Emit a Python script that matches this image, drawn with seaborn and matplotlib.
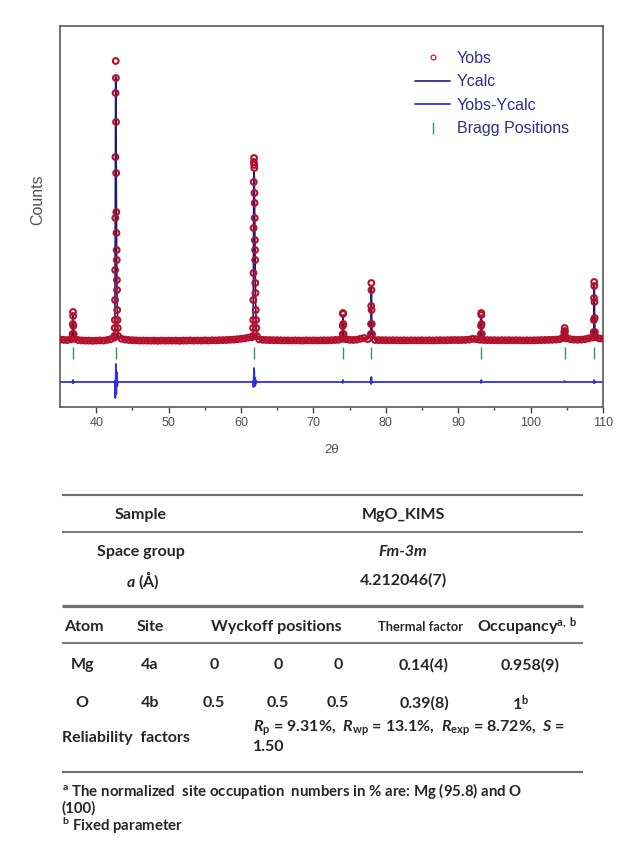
import numpy as np
import matplotlib
matplotlib.use("Agg")
import matplotlib.pyplot as plt
from matplotlib.lines import Line2D
import seaborn as sns

# ---------------- data ----------------
two_theta_start, two_theta_end, two_theta_step = 35.0, 110.0, 0.5
background_counts = [
    520, 505, 495, 530, 560, 500, 480, 470, 470, 460,
    470, 480, 470, 500, 540, 620, 640, 560, 520, 500,
    490, 480, 470, 475, 470, 465, 470, 460, 470, 465,
    470, 465, 470, 460, 470, 470, 480, 470, 475, 470,
    480, 475, 485, 480, 490, 495, 500, 510, 520, 540,
    560, 580, 620, 640, 560, 530, 510, 500, 495, 490,
    490, 485, 480, 480, 475, 480, 475, 470, 480, 475,
    480, 475, 480, 485, 480, 490, 500, 510, 560, 540,
    510, 500, 520, 560, 600, 540, 510, 500, 495, 490,
    490, 485, 490, 485, 480, 485, 480, 485, 480, 480,
    485, 480, 485, 480, 485, 490, 485, 490, 495, 500,
    495, 500, 505, 520, 560, 540, 510, 500, 495, 490,
    490, 485, 490, 485, 490, 485, 490, 485, 480, 485,
    480, 485, 490, 495, 500, 505, 510, 520, 540, 600,
    580, 540, 520, 510, 520, 540, 580, 620, 640, 580,
    560,
]

peak_36_theta = [36.74, 36.78, 36.80, 36.82, 36.84, 36.88]
peak_36_obs = [800, 1300, 1900, 1700, 1200, 800]
peak_36_calc = [800, 1350, 1800, 1650, 1250, 800]

peak_42_theta = [42.52, 42.56, 42.58, 42.60, 42.62, 42.64, 42.66, 42.68, 42.70, 42.72, 42.74,
                 42.76, 42.78, 42.80, 42.82, 42.84, 42.86, 42.88, 42.90, 42.94, 42.98, 43.04]
peak_42_obs = [700, 1100, 1500, 2500, 4000, 6600, 9650, 12850, 14450, 13600, 11400,
               8850, 6900, 5850, 5000, 4500, 3500, 3000, 2000, 1500, 1100, 700]
peak_42_calc = [700, 1050, 1600, 2700, 4600, 7400, 10300, 12900, 13650, 12700, 11300,
                9400, 7500, 6000, 4900, 4000, 3300, 2700, 2200, 1600, 1100, 700]

peak_62_theta = [61.62, 61.66, 61.68, 61.70, 61.72, 61.74, 61.76, 61.78, 61.80, 61.82, 61.84, 61.86,
                 61.88, 61.90, 61.92, 61.94, 61.96, 61.98, 62.00, 62.04, 62.08, 62.12, 62.18]
peak_62_obs = [700, 1100, 1500, 2500, 3850, 6100, 8400, 9400, 9600, 9250, 9100, 7850,
               7350, 6600, 5500, 5000, 4500, 3350, 2850, 2000, 1500, 1100, 700]
peak_62_calc = [700, 1050, 1450, 2600, 4100, 6300, 8300, 8900, 8900, 8700, 8600, 8000,
                7200, 6500, 5700, 4900, 4300, 3500, 2800, 2050, 1450, 1050, 700]

peak_74_theta = [74.04, 74.06, 74.08, 74.10, 74.12, 74.16]
peak_74_obs = [800, 1200, 1850, 1800, 1300, 800]
peak_74_calc = [800, 1250, 1750, 1750, 1300, 800]

peak_78_theta = [77.94, 77.96, 77.98, 78.00, 78.02, 78.04, 78.06, 78.10]
peak_78_obs = [800, 1300, 2200, 3350, 3000, 2000, 1300, 800]
peak_78_calc = [800, 1300, 2300, 3100, 2900, 2050, 1300, 800]

peak_93_theta = [93.14, 93.16, 93.18, 93.20, 93.22, 93.26]
peak_93_obs = [800, 1200, 1850, 1750, 1300, 800]
peak_93_calc = [800, 1250, 1750, 1700, 1300, 800]

peak_105_theta = [104.60, 104.65, 104.70, 104.75, 104.80]
peak_105_obs = [700, 900, 1100, 950, 700]
peak_105_calc = [700, 900, 1050, 950, 700]

peak_109_theta = [108.72, 108.74, 108.76, 108.78, 108.80, 108.82, 108.84, 108.88]
peak_109_obs = [900, 1500, 2600, 3400, 3200, 2400, 1600, 900]
peak_109_calc = [900, 1550, 2550, 3300, 3150, 2450, 1600, 900]

bragg_positions = [36.8, 42.7, 61.8, 74.1, 78.0, 93.2, 104.7, 108.8]
bragg_level = -170
difference_offset = -1600

x_ticks = [40, 50, 60, 70, 80, 90, 100, 110]
x_label = "2θ"
y_label = "Counts"
legend_labels = ["Yobs", "Ycalc", "Yobs-Ycalc", "Bragg Positions"]

# table content
sample_row = ["Sample", "MgO_KIMS"]
space_group_row = ["Space group", "Fm-3m"]
lattice_row = [r"$a$ (Å)", "4.212046(7)"]
header_row = ["Atom", "Site", "Wyckoff positions", "Thermal factor", r"Occupancy$^{\mathrm{a,\ b}}$"]
atoms = ["Mg", "O"]
sites = ["4a", "4b"]
wyckoff_x = ["0", "0.5"]
wyckoff_y = ["0", "0.5"]
wyckoff_z = ["0", "0.5"]
thermal = ["0.14(4)", "0.39(8)"]
occupancy = ["0.958(9)", r"1$^{\mathrm{b}}$"]
reliability_label = "Reliability  factors"
reliability_line1 = r"$R_\mathrm{p}$ = 9.31%,  $R_\mathrm{wp}$ = 13.1%,  $R_\mathrm{exp}$ = 8.72%,  $S$ ="
reliability_line2 = "1.50"
footnote_a1 = r"$^{\mathrm{a}}$ The normalized  site occupation  numbers in % are: Mg (95.8) and O"
footnote_a2 = "(100)"
footnote_b = r"$^{\mathrm{b}}$ Fixed parameter"

# ---------------- assemble profile ----------------
peaks = [
    (peak_36_theta, peak_36_obs, peak_36_calc),
    (peak_42_theta, peak_42_obs, peak_42_calc),
    (peak_62_theta, peak_62_obs, peak_62_calc),
    (peak_74_theta, peak_74_obs, peak_74_calc),
    (peak_78_theta, peak_78_obs, peak_78_calc),
    (peak_93_theta, peak_93_obs, peak_93_calc),
    (peak_105_theta, peak_105_obs, peak_105_calc),
    (peak_109_theta, peak_109_obs, peak_109_calc),
]
bg_x = np.linspace(two_theta_start, two_theta_end, len(background_counts))
bg_y = np.array(background_counts, float)
keep = np.ones(len(bg_x), bool)
for th, _, _ in peaks:
    keep &= ~((bg_x >= min(th)) & (bg_x <= max(th)))
xs = [bg_x[keep]]
obs = [bg_y[keep]]
calc = [bg_y[keep]]
for th, o, c in peaks:
    xs.append(np.array(th, float))
    obs.append(np.array(o, float))
    calc.append(np.array(c, float))
xs = np.concatenate(xs)
obs = np.concatenate(obs)
calc = np.concatenate(calc)
order = np.argsort(xs, kind="stable")
xs, obs, calc = xs[order], obs[order], calc[order]
diff = obs - calc + difference_offset

# ---------------- figure ----------------
sns.set_theme(style="white")
plt.rcParams["font.family"] = ["Liberation Sans", "DejaVu Sans"]
plt.rcParams["mathtext.fontset"] = "custom"
plt.rcParams["mathtext.rm"] = "Lato:bold"
plt.rcParams["mathtext.it"] = "Lato:italic:bold"
plt.rcParams["mathtext.bf"] = "Lato:bold"

W, H = 621, 864
fig = plt.figure(figsize=(W / 100, H / 100), dpi=100)

tab = fig.add_axes([0, 0, 1, 1], zorder=0)
tab.set_xlim(0, W)
tab.set_ylim(H, 0)
tab.axis("off")

ax = fig.add_axes([60 / W, 1 - 407 / H, 543 / W, 381 / H], zorder=2)
ax.set_facecolor("none")

obs_color = "#b40f2b"
calc_color = "#1c1c74"
diff_color = "#3030dc"
bragg_color = "#2f9a5c"
text_navy = "#2e2e8a"

sns.lineplot(x=xs, y=diff, ax=ax, color=diff_color, lw=1.3, estimator=None, sort=False, zorder=2)
sns.lineplot(x=xs, y=calc, ax=ax, color=calc_color, lw=1.2, estimator=None, sort=False, zorder=3)
sns.scatterplot(x=xs, y=obs, ax=ax, color=obs_color, s=17, marker="o", linewidth=1.5, zorder=4)
coll = ax.collections[-1]
coll.set_facecolor("none")
coll.set_edgecolor(obs_color)
ax.plot(bragg_positions, [bragg_level] * len(bragg_positions), linestyle="none", marker="|",
        ms=8, mew=1.0, color=bragg_color, zorder=5)

ax.set_xlim(two_theta_start, two_theta_end)
ax.set_ylim(-2850, 16200)
ax.set_xticks(x_ticks)
ax.set_xticks([45, 55, 65, 75, 85, 95, 105], minor=True)
ax.set_xticklabels([str(t) for t in x_ticks])
ax.set_yticks([])
ax.tick_params(axis="x", which="major", direction="out", length=4, width=1, color="#444444",
               labelsize=9, labelcolor="#505050", pad=3, bottom=True)
ax.tick_params(axis="x", which="minor", direction="out", length=2, width=1, color="#444444", bottom=True)
for sp in ax.spines.values():
    sp.set_color("#5a5a5a")
    sp.set_linewidth(1.2)
ax.set_xlabel(x_label, fontsize=9.5, color="#505050", labelpad=11)
ax.set_ylabel(y_label, fontsize=11.5, color="#505050")
ax.yaxis.set_label_coords(-0.027, 0.545)

handles = [
    Line2D([], [], linestyle="none", marker="o", ms=3.5, mfc="none", mec=obs_color, mew=0.8),
    Line2D([], [], color=calc_color, lw=1.2),
    Line2D([], [], color=diff_color, lw=1.3),
    Line2D([], [], linestyle="none", marker="|", ms=8, mew=1.0, color=bragg_color),
]
leg = fig.legend(handles, legend_labels, loc="upper left", bbox_to_anchor=(415 / W, 1 - 51 / H),
                 frameon=False, fontsize=11.5, handlelength=2.2, handletextpad=0.4,
                 labelspacing=0.53, borderpad=0, borderaxespad=0)
for t in leg.get_texts():
    t.set_color(text_navy)

# ---------------- table ----------------
tfont = ["Lato", "DejaVu Sans"]
tcol = "#262626"
fs = 11.5
kw = dict(fontsize=fs, fontweight="bold", color=tcol, family=tfont, va="center")

rule_color = "#6e6e6e"
for y, lw in [(495, 1.5), (532, 1.3), (606, 2.3), (643, 1.3), (772, 1.5)]:
    tab.plot([62, 583], [y, y], color=rule_color, lw=lw, solid_capstyle="butt")

tab.text(141, 515, sample_row[0], ha="center", **kw)
tab.text(403, 515, sample_row[1], ha="center", **kw)
tab.text(141, 552, space_group_row[0], ha="center", **kw)
tab.text(403, 552, space_group_row[1], ha="center", style="italic", **kw)
tab.text(143, 580, lattice_row[0], ha="center", **kw)
tab.text(403, 580, lattice_row[1], ha="center", **kw)

hx = [84, 150, 276, 421, 527]
for i, h in enumerate(header_row):
    k2 = dict(kw)
    if h == "Thermal factor":
        k2["fontsize"] = 9.3
    tab.text(hx[i], 627, h, ha="center", **k2)

row_y = [665, 703]
cx = [82, 150, 214, 278, 338, 424, 530]
for r in range(2):
    vals = [atoms[r], sites[r], wyckoff_x[r], wyckoff_y[r], wyckoff_z[r], thermal[r], occupancy[r]]
    for i, v in enumerate(vals):
        x = cx[i]
        if i == 6 and r == 1:
            x = 521
        tab.text(x, row_y[r], v, ha="center", **kw)

tab.text(62, 738, reliability_label, ha="left", **kw)
tab.text(253, 728, reliability_line1, ha="left", **kw)
tab.text(253, 747, reliability_line2, ha="left", **kw)

fkw = dict(kw)
fkw["fontsize"] = 10.8
tab.text(62, 791, footnote_a1, ha="left", **fkw)
tab.text(62, 808, footnote_a2, ha="left", **fkw)
tab.text(62, 826, footnote_b, ha="left", **fkw)

fig.savefig("out.png", dpi=100)
